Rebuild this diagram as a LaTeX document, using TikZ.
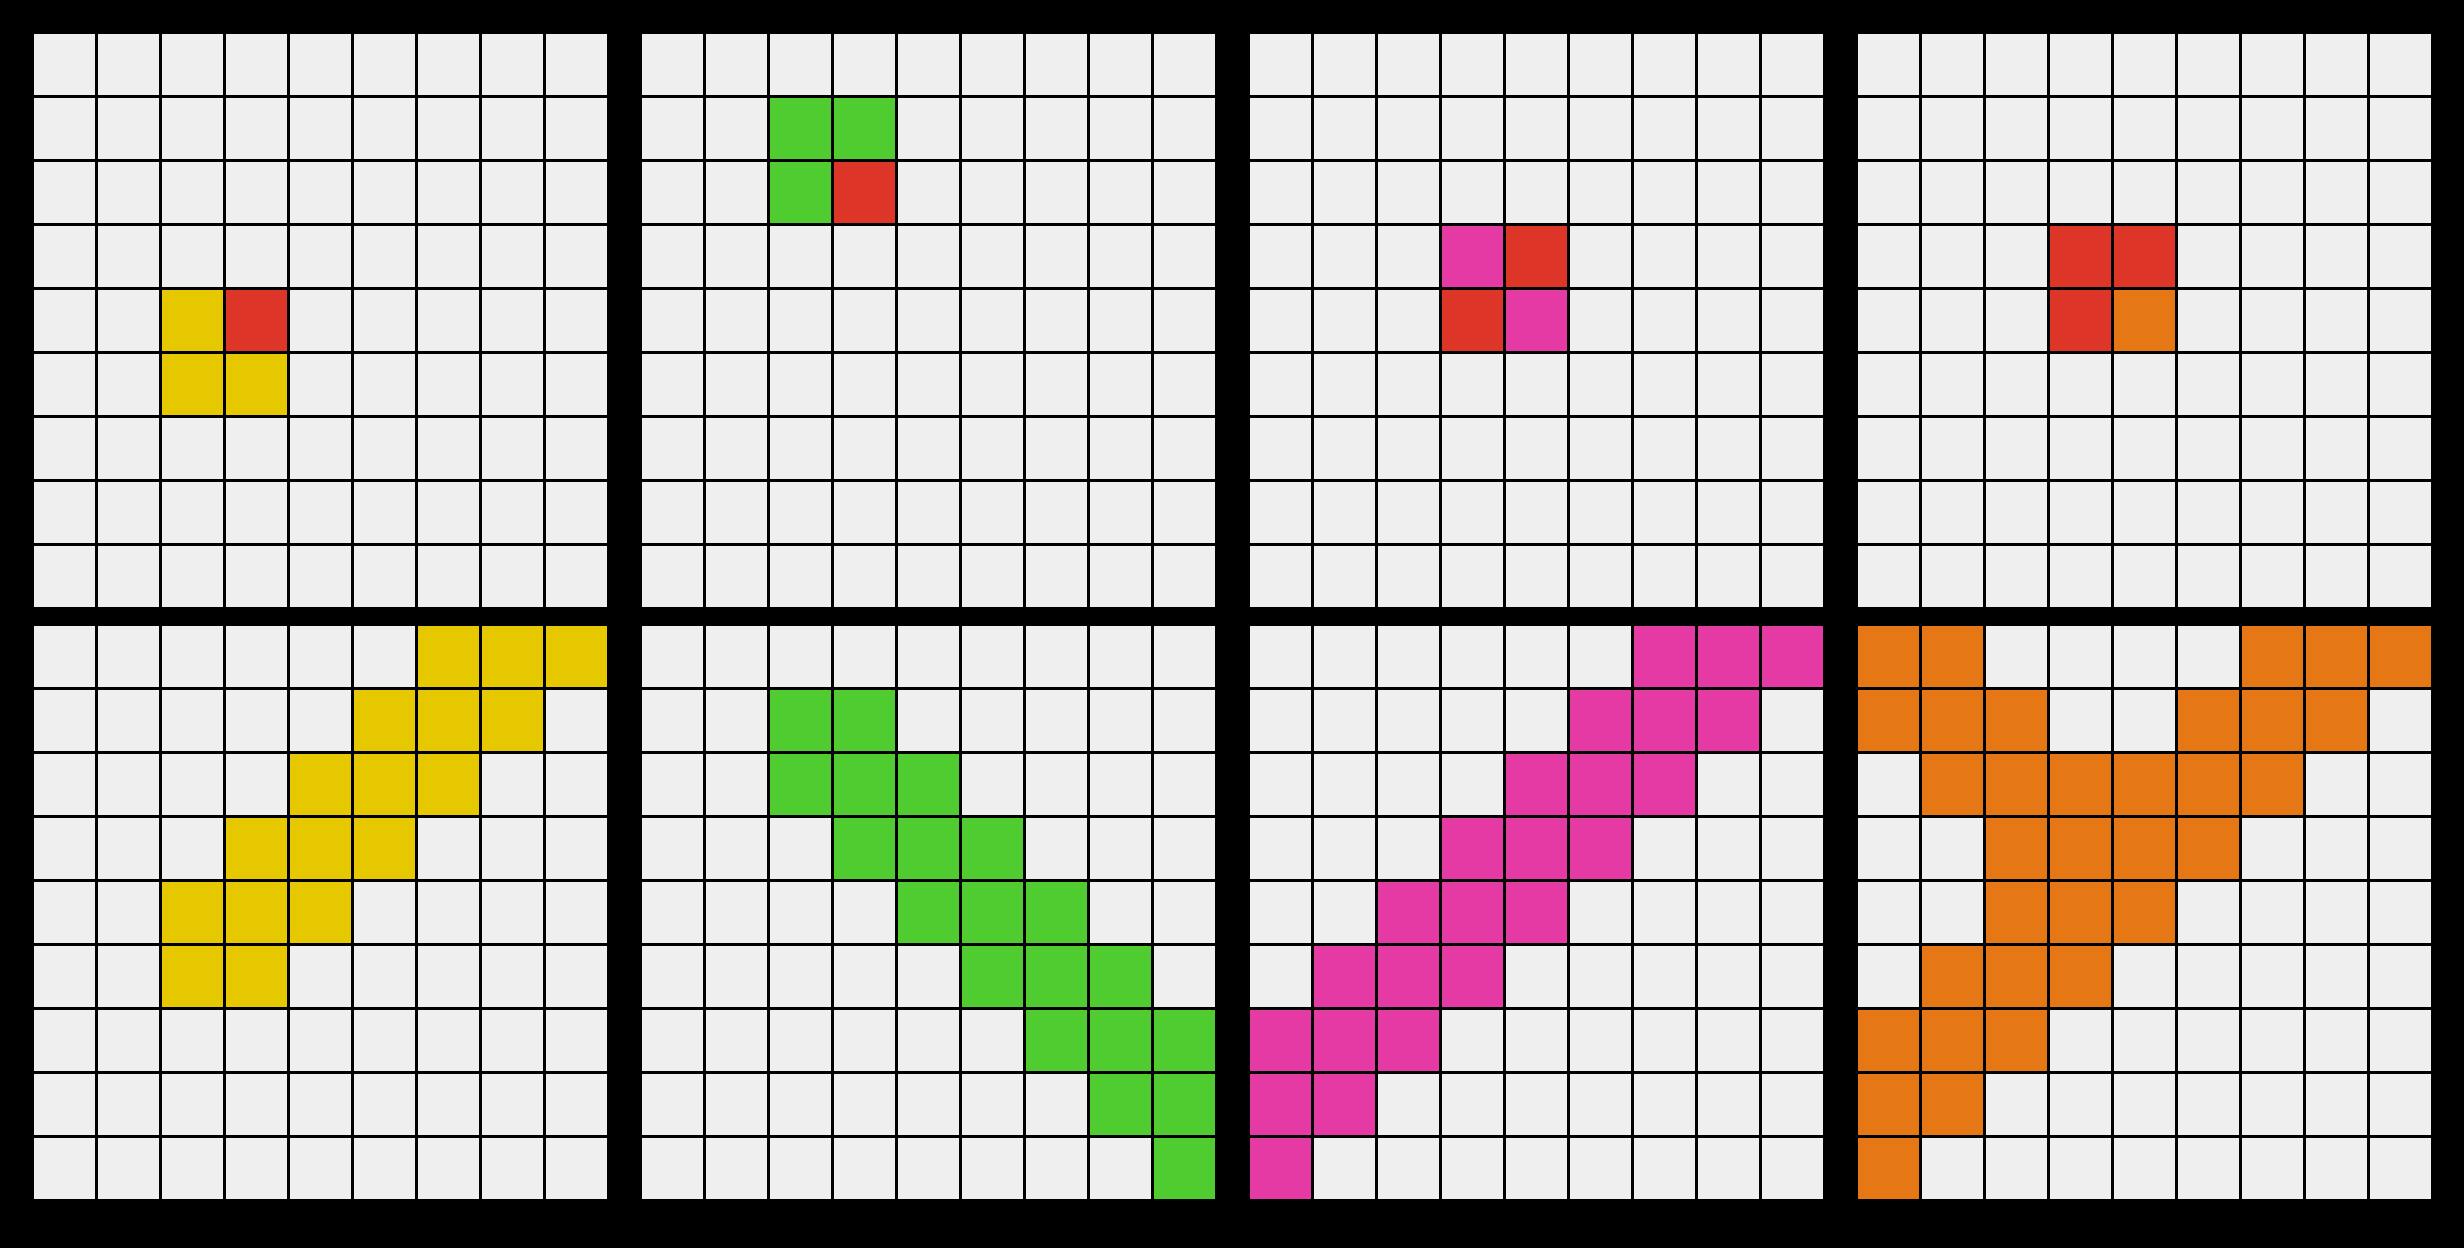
\documentclass[tikz,border=0pt]{standalone}
\definecolor{cgray}{HTML}{EFEFEF}
\definecolor{cyel}{HTML}{E6C800}
\definecolor{cred}{HTML}{DE3529}
\definecolor{cgrn}{HTML}{4FCC30}
\definecolor{cmag}{HTML}{E53AA3}
\definecolor{corg}{HTML}{E57814}
\tikzset{cellbox/.style={fill=#1}}
\begin{document}
\begin{tikzpicture}[x=0.25mm,y=-0.25mm]
\fill[black] (0,0) rectangle (2464,1248);
\useasboundingbox (0,0) rectangle (2464,1248);
% empty cells
\foreach \ox in {34,642,1250,1858}
  \foreach \oy in {34,626}
    \foreach \r in {0,...,8}
      \foreach \c in {0,...,8}
        \fill[cellbox=cgray] (\ox+64*\c,\oy+64*\r) rectangle ++(61,61);
% coloured cells: origin x / origin y / row / first col / last col / colour
\foreach \ox/\oy/\r/\a/\b/\col in {
  34/34/4/2/2/cyel, 34/34/4/3/3/cred, 34/34/5/2/3/cyel,
  642/34/1/2/3/cgrn, 642/34/2/2/2/cgrn, 642/34/2/3/3/cred,
  1250/34/3/3/3/cmag, 1250/34/3/4/4/cred, 1250/34/4/3/3/cred, 1250/34/4/4/4/cmag,
  1858/34/3/3/4/cred, 1858/34/4/3/3/cred, 1858/34/4/4/4/corg,
  34/626/0/6/8/cyel, 34/626/1/5/7/cyel, 34/626/2/4/6/cyel, 34/626/3/3/5/cyel,
  34/626/4/2/4/cyel, 34/626/5/2/3/cyel,
  642/626/1/2/3/cgrn, 642/626/2/2/4/cgrn, 642/626/3/3/5/cgrn, 642/626/4/4/6/cgrn,
  642/626/5/5/7/cgrn, 642/626/6/6/8/cgrn, 642/626/7/7/8/cgrn, 642/626/8/8/8/cgrn,
  1250/626/0/6/8/cmag, 1250/626/1/5/7/cmag, 1250/626/2/4/6/cmag, 1250/626/3/3/5/cmag,
  1250/626/4/2/4/cmag, 1250/626/5/1/3/cmag, 1250/626/6/0/2/cmag, 1250/626/7/0/1/cmag,
  1250/626/8/0/0/cmag,
  1858/626/0/0/1/corg, 1858/626/0/6/8/corg, 1858/626/1/0/2/corg, 1858/626/1/5/7/corg,
  1858/626/2/1/6/corg, 1858/626/3/2/5/corg, 1858/626/4/2/4/corg, 1858/626/5/1/3/corg,
  1858/626/6/0/2/corg, 1858/626/7/0/1/corg, 1858/626/8/0/0/corg}
  \foreach \c in {\a,...,\b}
    \fill[cellbox=\col] (\ox+64*\c,\oy+64*\r) rectangle ++(61,61);
\end{tikzpicture}
\end{document}
